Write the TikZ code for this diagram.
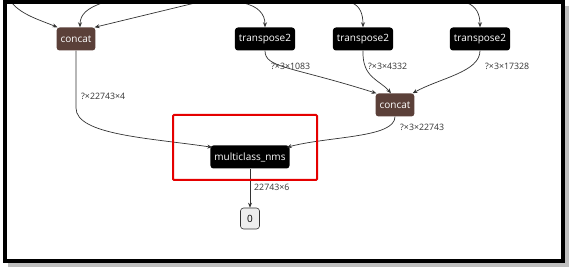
\documentclass[tikz,border=0pt]{standalone}
\usepackage{fontspec}
\setmainfont{Open Sans}
\usetikzlibrary{arrows.meta, positioning}

\definecolor{concatbrown}{HTML}{5B4039}
\definecolor{edgegray}{HTML}{333333}
\definecolor{outfill}{HTML}{EEEEEE}

\begin{document}
\begin{tikzpicture}[
        x=1pt, y=-1pt,
        font=\fontsize{10}{12}\selectfont,
        opnode/.style={rounded corners=3pt, fill=black, text=white, align=center, minimum height=23pt, inner xsep=4pt},
        catnode/.style={opnode, fill=concatbrown},
        outnode/.style={draw=edgegray, line width=0.6pt, rounded corners=3pt, fill=outfill, text=black, minimum height=21pt, minimum width=19pt, inner sep=0pt},
        shape lbl/.style={font=\fontsize{8.8}{10}\selectfont, text=edgegray, anchor=west, inner sep=0pt},
        arrow/.style={-{Stealth[length=5pt, width=4pt]}, line width=0.7pt, draw=edgegray}
    ]
        \useasboundingbox (0,0) rectangle (574,272);
        % frame with shadow
        \fill[black!25] (8,6) rectangle (569,267);
        \fill[white] (5,2) rectangle (563,261);

        \node[catnode] (concatA) at (76,39) {concat};
        \node[opnode] (transA) at (265,39) {transpose2};
        \node[opnode] (transB) at (363,39) {transpose2};
        \node[opnode] (transC) at (480,39) {transpose2};
        \node[catnode] (concatB) at (395,105) {concat};
        \node[opnode] (nms) at (250,157) {multiclass\_nms};
        \node[outnode, below=39pt of nms] (out) {0};

        % free ends of the cut-off inputs
        \coordinate (inA) at (12,3);
        \coordinate (inB) at (102,3);
        \coordinate (inC) at (195,3);
        \coordinate (inD) at (243,3);
        \coordinate (inE) at (352,3);
        \coordinate (inF) at (467,3);

        \draw[arrow] (inA) .. controls (22,15) and (40,20) .. ([xshift=1pt]concatA.north west);
        \draw[arrow] (inB) .. controls (88,8) and (80,14) .. ([xshift=4pt]concatA.north);
        \draw[arrow] (inC) -- ([xshift=-1pt]concatA.north east);
        \draw[arrow] (inD) .. controls (258,6) and (265,14) .. (transA.north);
        \draw[arrow] (inE) .. controls (360,6) and (363,14) .. (transB.north);
        \draw[arrow] (inF) .. controls (476,6) and (480,14) .. (transC.north);

        \draw[arrow] (transA.south) .. controls (265,68) and (290,66) .. ([xshift=1pt]concatB.north west);
        \draw[arrow] (transB.south) .. controls (362,78) and (380,80) .. ([xshift=-4pt]concatB.north);
        \draw[arrow] (transC.south) .. controls (480,72) and (440,78) .. ([xshift=-2pt]concatB.north east);
        \draw[arrow] (concatA.south) -- (76,108) .. controls (76,135) and (150,138) .. ([xshift=2pt,yshift=-2pt]nms.north west);
        \draw[arrow] (concatB.south) .. controls (395,138) and (330,136) .. ([xshift=-3pt,yshift=-2pt]nms.north east);
        \draw[arrow] (nms) -- (out);

        \node[shape lbl] (lblA) at (81,96) {?×22743×4};
        \node[shape lbl] (lblB) at (271,66) {?×3×1083};
        \node[shape lbl] (lblC) at (368,66) {?×3×4332};
        \node[shape lbl] (lblD) at (485,66) {?×3×17328};
        \node[shape lbl] (lblE) at (400,127) {?×3×22743};
        \node[shape lbl] (lblF) at (254,187) {22743×6};

        \draw[red!90!black, line width=2pt, rounded corners=1pt] (173,115) rectangle (317,180);
        \draw[black, line width=4.5pt] (5,2) rectangle (563,261);
    \end{tikzpicture}
\end{document}
